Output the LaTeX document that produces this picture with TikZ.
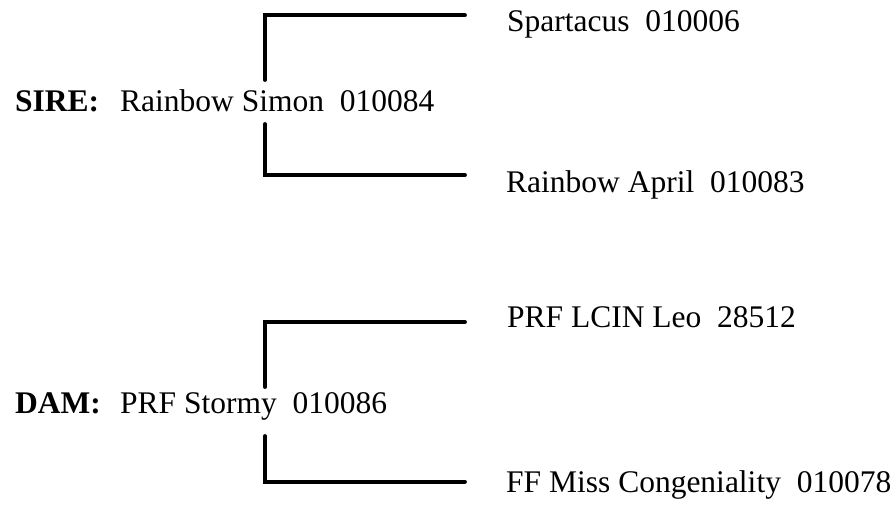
\documentclass[tikz,border=0pt]{standalone}
\usepackage{fontspec}
\setmainfont{Liberation Serif}
\begin{document}
\begin{tikzpicture}[x=1pt,y=-1pt,
  lbl/.style={anchor=base west,inner sep=0pt,font=\fontsize{31.5}{36}\selectfont},
  brk/.style={line width=3.8pt,line cap=round,line join=miter}]
\useasboundingbox (0,0) rectangle (894,506);
% sire
\node[lbl] (sirelab) at (15,111) {\textbf{SIRE:}};
\node[lbl] (sire) at (120,111) {Rainbow Simon\ \ 010084};
\node[lbl] (ss) at (507,31) {Spartacus\ \ 010006};
\node[lbl] (sd) at (506,192) {Rainbow April\ \ 010083};
\coordinate (s1) at (265,80);
\coordinate (s2) at (265,124);
\coordinate (st) at (465,15.3);
\coordinate (sb) at (465,175);
\draw[brk] (s1) |- (st);
\draw[brk] (s2) |- (sb);
% dam
\node[lbl] (damlab) at (15,413) {\textbf{DAM:}};
\node[lbl] (dam) at (120,413) {PRF Stormy\ \ 010086};
\node[lbl] (ds) at (507,327) {PRF LCIN Leo\ \ 28512};
\node[lbl] (dd) at (506,492) {FF Miss Congeniality\ \ 010078};
\coordinate (d1) at (265,387);
\coordinate (d2) at (265,436);
\coordinate (dt) at (465,322);
\coordinate (db) at (465,481.7);
\draw[brk] (d1) |- (dt);
\draw[brk] (d2) |- (db);
\end{tikzpicture}
\end{document}
